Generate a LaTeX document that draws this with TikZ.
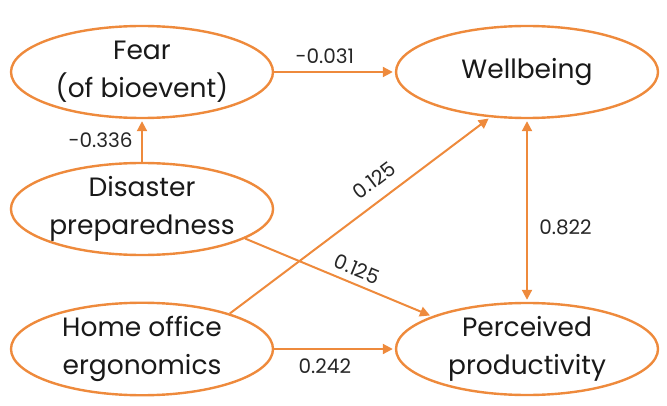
\documentclass[tikz,border=0pt]{standalone}
\usepackage{fontspec}
\setmainfont{Poppins}
\usetikzlibrary{shapes.geometric,arrows.meta}
\definecolor{pathorange}{HTML}{EE8A3C}
\tikzset{
  construct/.style={ellipse, draw=pathorange, line width=2.4pt, minimum width=262pt,
    minimum height=92pt, inner sep=0pt, align=center, text=black!90,
    font=\fontsize{26.5}{38}\selectfont},
  path/.style={draw=pathorange, line width=2pt, -{Triangle[length=10pt,width=10pt]}, shorten >=2pt},
  twoway/.style={draw=pathorange, line width=2pt,
    {Triangle[length=10pt,width=10pt]}-{Triangle[length=10pt,width=10pt]},
    shorten >=2pt, shorten <=2pt},
  coef/.style={font=\fontsize{20}{22}\selectfont, text=black!85}
}
\begin{document}
\begin{tikzpicture}[x=1pt,y=1pt]
\useasboundingbox (0,0) rectangle (667,405);
% latent constructs
\node[construct] (fear) at (142,333) {Fear\\(of bioevent)};
\node[construct] (wb) at (527,333) {Wellbeing};
\node[construct] (dp) at (142,196) {Disaster\\preparedness};
\node[construct] (ho) at (142,56) {Home office\\ergonomics};
\node[construct] (pp) at (527,56) {Perceived\\productivity};

% structural paths with coefficients
\draw[path] (fear) -- (wb) node[coef, pos=0.42, above=4pt] {-0.031};
\draw[path] (dp) -- (fear) node[coef, midway, left=5pt] {-0.336};
\draw[path] (ho.22) -- (wb.231) node[coef, pos=0.6, sloped, above=8pt] {0.125};
\draw[path] (dp.-16) -- (pp.161) node[coef, pos=0.57, sloped, above=3pt] {0.125};
\draw[path] (ho) -- (pp) node[coef, pos=0.42, below=5pt] {0.242};
\draw[twoway] (wb) -- (pp) node[coef, pos=0.59, right=8pt] {0.822};
\end{tikzpicture}
\end{document}
